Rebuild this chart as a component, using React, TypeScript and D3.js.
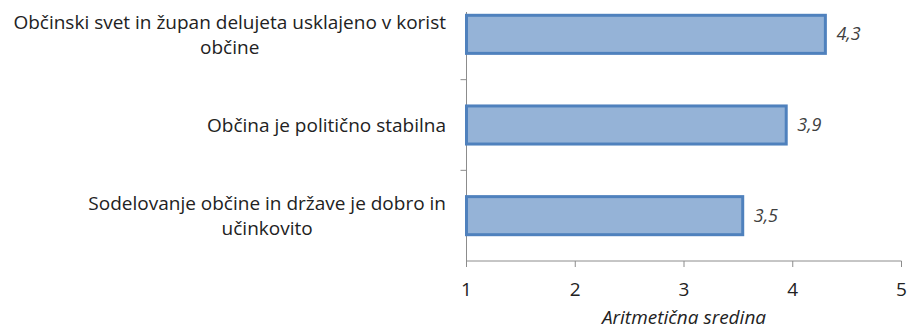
import React from "react";
import * as d3 from "d3";

const categories: string[][] = [
  ["Občinski svet in župan delujeta usklajeno v korist", "občine"],
  ["Občina je politično stabilna"],
  ["Sodelovanje občine in države je dobro in", "učinkovito"],
];
const values: number[] = [4.3, 3.94, 3.54];
const xTicks: number[] = [1, 2, 3, 4, 5];
const axisTitle = "Aritmetična sredina";

const W = 907;
const H = 330;
const FONT = "'Open Sans', 'DejaVu Sans', sans-serif";
const CAT_SIZE = 19;

function measure(text: string, size: number): number {
  const c = document.createElement("canvas").getContext("2d");
  if (!c) return text.length * size * 0.5;
  c.font = `${size}px 'Open Sans'`;
  return c.measureText(text).width;
}

export default function App() {
  const x = d3.scaleLinear().domain([1, 5]).range([466.5, 901.5]);
  const y = d3
    .scaleBand<number>()
    .domain(categories.map((_, i) => i))
    .range([-11, 261])
    .paddingInner(0.58)
    .paddingOuter(0.29);
  const bandStep = y.step();
  const fmt = (v: number) => d3.format(".1f")(v).replace(".", ",");
  const axisColor = "#8c8c8c";
  const labelRight = 446;

  return (
    <svg
      width={W}
      height={H}
      style={{ position: "absolute", left: 0, top: 0, background: "#fff" }}
      fontFamily={FONT}
    >
      {/* vertical axis */}
      <line x1={x(1)} x2={x(1)} y1={12} y2={261} stroke={axisColor} strokeWidth={1} />
      {categories.map((_, i) =>
        i > 0 ? (
          <line
            key={"yt" + i}
            x1={x(1) - 6}
            x2={x(1)}
            y1={-11 + bandStep * i}
            y2={-11 + bandStep * i}
            stroke={axisColor}
          />
        ) : null
      )}
      {/* horizontal axis */}
      <line x1={x(1)} x2={x(5)} y1={261} y2={261} stroke={axisColor} />
      {xTicks.map((t) => (
        <g key={"xt" + t}>
          <line x1={x(t)} x2={x(t)} y1={261} y2={267} stroke={axisColor} />
          <text x={x(t)} y={296} textAnchor="middle" fontSize={19} fill="#222">
            {t}
          </text>
        </g>
      ))}
      <text
        x={x(3)}
        y={324}
        textAnchor="middle"
        fontSize={19}
        fontStyle="italic"
        fill="#222"
      >
        {axisTitle}
      </text>
      {/* bars */}
      {values.map((v, i) => {
        const by = y(i)!;
        const bh = y.bandwidth();
        return (
          <g key={"b" + i}>
            <rect
              x={x(1)}
              y={by}
              width={x(v) - x(1)}
              height={bh}
              fill="#95B3D7"
              stroke="#4F81BD"
              strokeWidth={3}
            />
            <text
              x={x(v) + 11}
              y={by + bh / 2 + 6}
              fontSize={18}
              fontStyle="italic"
              fill="#404040"
            >
              {fmt(v)}
            </text>
          </g>
        );
      })}
      {/* category labels */}
      {categories.map((lines, i) => {
        const cy = y(i)! + y.bandwidth() / 2;
        const lh = 25;
        const n = lines.length;
        const maxW = Math.max(...lines.map((l) => measure(l, CAT_SIZE)));
        const cx = labelRight - maxW / 2;
        return lines.map((ln, j) => {
          const ty = cy + (j - (n - 1) / 2) * lh + 7;
          return (
            <text
              key={"c" + i + "_" + j}
              x={cx}
              y={ty}
              textAnchor="middle"
              fontSize={CAT_SIZE}
              fill="#222"
            >
              {ln}
            </text>
          );
        });
      })}
    </svg>
  );
}
